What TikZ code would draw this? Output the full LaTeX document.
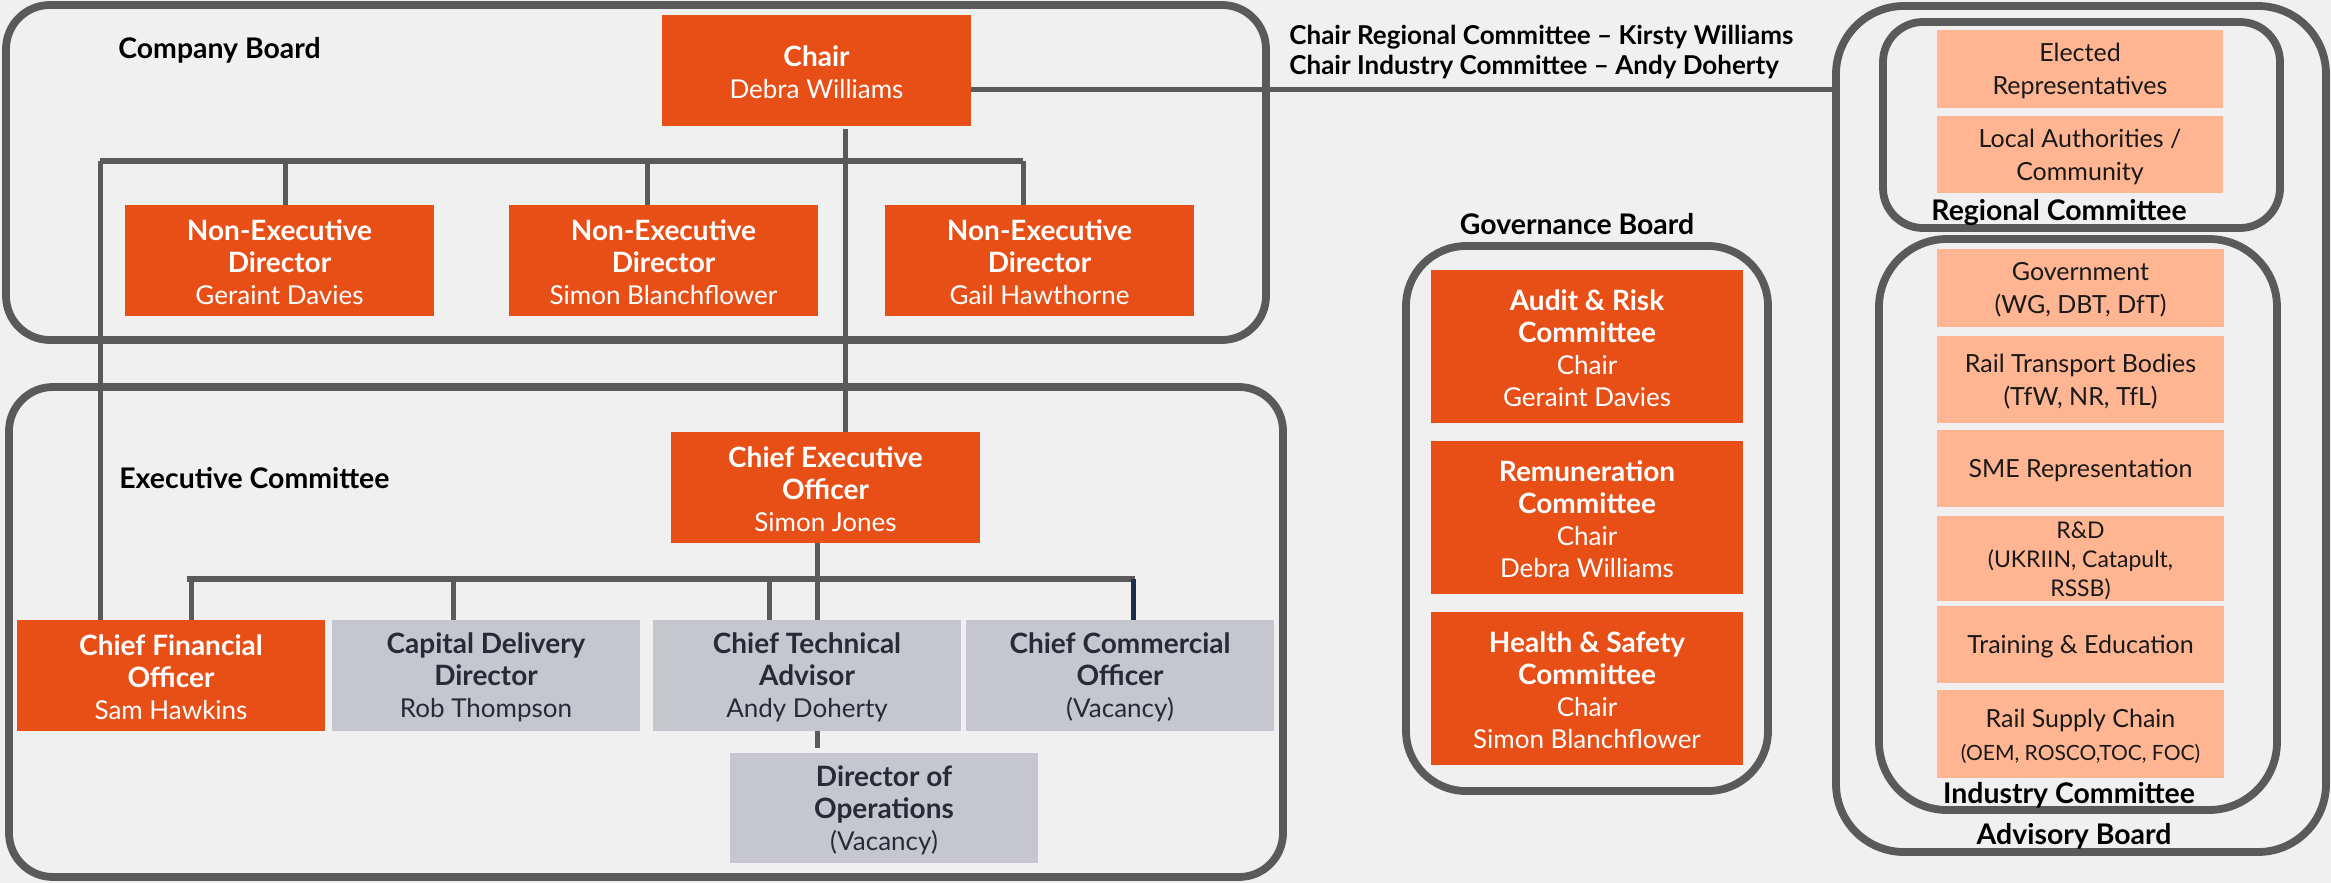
\documentclass[tikz,border=0pt]{standalone}
\usepackage{fontspec}
\setmainfont{Lato}
\usetikzlibrary{fit,calc}
\definecolor{org}{HTML}{E84F17}
\definecolor{salm}{HTML}{FFB591}
\definecolor{gbox}{HTML}{C6C6CF}
\definecolor{frm}{HTML}{5A5A5A}
\definecolor{bgc}{HTML}{F0F0F0}
\definecolor{gtxt}{HTML}{2A2A36}
\definecolor{navy}{HTML}{1F2D4D}
\newcommand\Bt[1]{{\bfseries\fontsize{14}{16}\selectfont #1}}
% #1 style, #2 name, #3 corner, #4 corner, #5 text
\newcommand\mybox[5]{%
  \node[#1, fit={(#3)(#4)}] (#2) {};
  \node[#1txt] (#2t) at ($(#2.center)+(0,2)$) {#5};}
\begin{document}
\begin{tikzpicture}[x=0.5pt,y=-0.5pt,
  frame/.style={draw=frm,line width=3.9pt,inner sep=0pt,rounded corners=#1},
  frame/.default=22pt,
  obox/.style={fill=org,inner sep=0pt},
  oboxtxt/.style={text=white,inner sep=0pt,align=center,font=\fontsize{13}{16}\selectfont},
  gybox/.style={fill=gbox,inner sep=0pt},
  gyboxtxt/.style={text=gtxt,inner sep=0pt,align=center,font=\fontsize{13}{16}\selectfont},
  sbox/.style={fill=salm,inner sep=0pt},
  sboxtxt/.style={text=black!90,inner sep=0pt,align=center,font=\fontsize{12.5}{16.5}\selectfont},
  rbox/.style={fill=salm,inner sep=0pt},
  rboxtxt/.style={text=black!90,inner sep=0pt,align=center,font=\fontsize{11.5}{14.5}\selectfont},
  lbl/.style={inner sep=0pt,font=\bfseries\fontsize{14.2}{16}\selectfont,text=black},
  lblc/.style={inner sep=0pt,font=\bfseries\fontsize{13}{15}\selectfont,text=black},
  conn/.style={draw=frm,line width=2.5pt},
  bar/.style={draw=frm,line width=3pt}]
\fill[bgc] (0,0) rectangle (2331,883);
% frames
\node[frame, fit={(6,5)(1266,340)}] (cb) {};
\node[frame, fit={(9,387)(1283,877)}] (ec) {};
\node[frame=30pt, fit={(1406,246)(1768,791)}] (gb) {};
\node[frame=34pt, fit={(1836,6)(2326,852)}] (ab) {};
\node[frame=20pt, fit={(1883,22)(2280,228)}] (rc) {};
\node[frame=34pt, fit={(1879,239)(2277,810)}] (ic) {};
% labels
\node[lbl,anchor=west] (lcb) at (118,50) {Company Board};
\node[lbl,anchor=west] (lec) at (119,478) {Executive Committee};
\node[lbl] (lgb) at (1577,224) {Governance Board};
\node[lbl] (lrc) at (2059,213) {Regional Committee};
\node[lbl] (lic) at (2069,795) {Industry Committee};
\node[lbl] (lab) at (2074,836) {Advisory Board};
\node[lblc,anchor=west] (lch1) at (1289,37) {Chair Regional Committee – Kirsty Williams};
\node[lblc,anchor=west] (lch2) at (1289,67) {Chair Industry Committee – Andy Doherty};
% company board
\mybox{obox}{chair}{662,15}{971,126}{\Bt{Chair}\\Debra Williams}
\mybox{obox}{ned1}{125,205}{434,316}{\Bt{Non-Executive}\\\Bt{Director}\\Geraint Davies}
\mybox{obox}{ned2}{509,205}{818,316}{\Bt{Non-Executive}\\\Bt{Director}\\Simon Blanchflower}
\mybox{obox}{ned3}{885,205}{1194,316}{\Bt{Non-Executive}\\\Bt{Director}\\Gail Hawthorne}
% executive
\mybox{obox}{ceo}{671,432}{980,543}{\Bt{Chief Executive}\\\Bt{Officer}\\Simon Jones}
\mybox{obox}{cfo}{17,620}{325,731}{\Bt{Chief Financial}\\\Bt{Officer}\\Sam Hawkins}
\mybox{gybox}{cdd}{332,620}{640,731}{\Bt{Capital Delivery}\\\Bt{Director}\\Rob Thompson}
\mybox{gybox}{cta}{653,620}{961,731}{\Bt{Chief Technical}\\\Bt{Advisor}\\Andy Doherty}
\mybox{gybox}{cco}{966,620}{1274,731}{\Bt{Chief Commercial}\\\Bt{Officer}\\(Vacancy)}
\mybox{gybox}{doo}{730,753}{1038,863}{\Bt{Director of}\\\Bt{Operations}\\(Vacancy)}
% governance
\mybox{obox}{arc}{1431,270}{1743,423}{\Bt{Audit \& Risk}\\\Bt{Committee}\\Chair\\Geraint Davies}
\mybox{obox}{rem}{1431,441}{1743,594}{\Bt{Remuneration}\\\Bt{Committee}\\Chair\\Debra Williams}
\mybox{obox}{hsc}{1431,612}{1743,765}{\Bt{Health \& Safety}\\\Bt{Committee}\\Chair\\Simon Blanchflower}
% regional
\mybox{sbox}{elr}{1937,30}{2223,108}{Elected\\Representatives}
\mybox{sbox}{lac}{1937,116}{2223,193}{Local Authorities /\\Community}
% industry
\mybox{sbox}{gov}{1937,249}{2224,327}{Government\\(WG, DBT, DfT)}
\mybox{sbox}{rtb}{1937,336}{2224,423}{Rail Transport Bodies\\(TfW, NR, TfL)}
\mybox{sbox}{sme}{1937,430}{2224,507}{SME Representation}
\mybox{rbox}{rnd}{1937,516}{2224,601}{R\&D\\(UKRIIN, Catapult,\\RSSB)}
\mybox{sbox}{tre}{1937,606}{2224,683}{Training \& Education}
\mybox{sbox}{rsc}{1937,690}{2224,778}{Rail Supply Chain\\{\fontsize{10.5}{13}\selectfont (OEM, ROSCO,TOC, FOC)}}
% company board connectors
\coordinate (cbL) at (100,161);
\coordinate (cbR) at (1023,161);
\draw[bar] (cbL) -- (cbR);
\draw[conn] (cbL) -- (cbL |- cfo.north);
\coordinate (n1) at ($(ned1.north)+(5.5,0)$);
\coordinate (n2) at ($(ned2.north)+(-16.5,0)$);
\coordinate (n3) at ($(ned3.north)+(-16.5,0)$);
\draw[conn] (n1) -- (n1 |- cbL);
\draw[conn] (n2) -- (n2 |- cbL);
\draw[conn] (n3) -- (n3 |- cbL);
\coordinate (chd) at ($(chair.south)+(28.5,3)$);
\draw[conn] (chd) -- (chd |- ceo.north);
\coordinate (che) at ($(chair.east)+(0,19.5)$);
\draw[conn] (che) -- (che -| ab.west);
% executive connectors
\coordinate (ebL) at (187,579);
\coordinate (ebR) at (1135,579);
\draw[bar] (ebL) -- (ebR);
\coordinate (ced) at ($(ceo.south)+(-8.5,0)$);
\draw[conn] (ced) -- (ced |- cta.north);
\coordinate (d1) at ($(cfo.north)+(20,0)$);
\coordinate (d2) at ($(cdd.north)+(-33,0)$);
\coordinate (d3) at ($(cta.north)+(-38,0)$);
\coordinate (d4) at ($(cco.north)+(13,0)$);
\draw[conn] (d1) -- (d1 |- ebL);
\draw[conn] (d2) -- (d2 |- ebL);
\draw[conn] (d3) -- (d3 |- ebL);
\draw[draw=navy,line width=2.5pt] (d4) -- (d4 |- ebL);
\coordinate (ctd) at (ced |- cta.south);
\draw[conn] (ctd) -- ($(ctd)+(0,17)$);
\end{tikzpicture}
\end{document}
